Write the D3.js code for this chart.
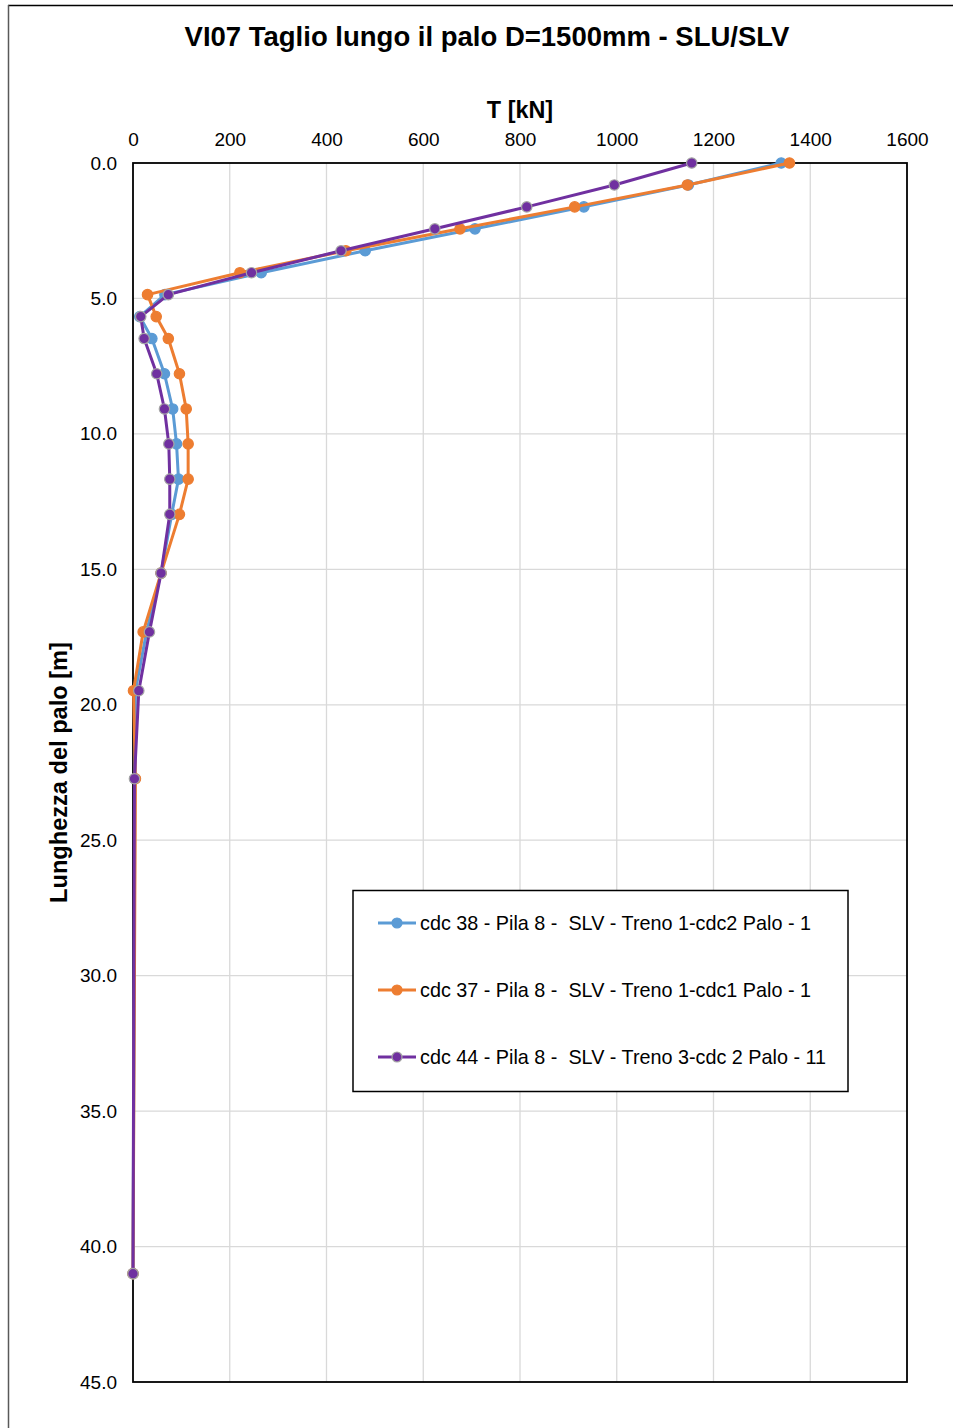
<!DOCTYPE html>
<html>
<head>
<meta charset="utf-8">
<script src="https://cdn.jsdelivr.net/npm/d3@7"></script>
<style>
  html, body { margin: 0; padding: 0; background: #fff; }
  svg { display: block; font-family: "Liberation Sans", Arial, sans-serif; }
</style>
</head>
<body>
<svg id="chart" width="953" height="1428"></svg>
<script>
// Depth along the pile [m]
const depth = [0, 0.81, 1.62, 2.43, 3.24, 4.05, 4.86, 5.67, 6.48, 7.78, 9.08, 10.37, 11.67, 12.97, 15.14, 17.31, 19.48, 22.73, 41.0];

// Shear T [kN] per load combination
const cdc38 = [1340, 1148, 932, 707, 480, 265, 66, 14, 39, 65, 82, 90, 94, 80, 58, 28, 5, 4, 0];
const cdc37 = [1357, 1146, 913, 676, 440, 221, 30, 48, 73, 96, 110, 114, 114, 96, 58, 21, 1, 5, 0];
const cdc44 = [1155, 995, 814, 624, 430, 245, 73, 16, 23, 49, 65, 74, 76, 76, 58, 34, 12, 3, 0];

const seriesNames = [
  "cdc 38 - Pila 8 -  SLV - Treno 1-cdc2 Palo - 1",
  "cdc 37 - Pila 8 -  SLV - Treno 1-cdc1 Palo - 1",
  "cdc 44 - Pila 8 -  SLV - Treno 3-cdc 2 Palo - 11"
];
const seriesColors = ["#5B9BD5", "#ED7D31", "#7030A0"];
const markerStrokes = ["#5B9BD5", "#ED7D31", "#A5A5A5"];

const xTicks = [0, 200, 400, 600, 800, 1000, 1200, 1400, 1600];
const yTicks = [0, 5, 10, 15, 20, 25, 30, 35, 40, 45];

const title = "VI07 Taglio lungo il palo D=1500mm - SLU/SLV";
const xTitle = "T [kN]";
const yTitle = "Lunghezza del palo [m]";

const svg = d3.select("#chart");
const W = 953, H = 1428;
const plot = { left: 133, top: 163, right: 907, bottom: 1382 };

// chart frame
svg.append("line").attr("x1", 8).attr("x2", W).attr("y1", 5.5).attr("y2", 5.5)
  .attr("stroke", "#000").attr("stroke-width", 1.5);
svg.append("line").attr("x1", 8.5).attr("x2", 8.5).attr("y1", 5).attr("y2", H)
  .attr("stroke", "#595959").attr("stroke-width", 1.5);

const x = d3.scaleLinear().domain([0, 1600]).range([plot.left, plot.right]);
const y = d3.scaleLinear().domain([0, 45]).range([plot.top, plot.bottom]);

// gridlines
const grid = svg.append("g");
grid.selectAll("line.v").data(xTicks.slice(1, -1)).join("line")
  .attr("x1", d => x(d)).attr("x2", d => x(d))
  .attr("y1", plot.top).attr("y2", plot.bottom)
  .attr("stroke", "#D9D9D9").attr("stroke-width", 1.3);
grid.selectAll("line.h").data(yTicks.slice(1, -1)).join("line")
  .attr("x1", plot.left).attr("x2", plot.right)
  .attr("y1", d => y(d)).attr("y2", d => y(d))
  .attr("stroke", "#D9D9D9").attr("stroke-width", 1.3);

// plot border
svg.append("rect")
  .attr("x", plot.left).attr("y", plot.top)
  .attr("width", plot.right - plot.left).attr("height", plot.bottom - plot.top)
  .attr("fill", "none").attr("stroke", "#000").attr("stroke-width", 1.8);

// axes (labels only, the frame draws the lines)
const xAxis = d3.axisTop(x).tickValues(xTicks).tickSize(0).tickPadding(17).tickFormat(d3.format("d"));
const gx = svg.append("g").attr("transform", `translate(0,${plot.top})`).call(xAxis);
gx.select(".domain").remove();
gx.selectAll("text").attr("font-size", 19).attr("fill", "#000")
  .attr("font-family", "Liberation Sans, Arial, sans-serif");

const yAxis = d3.axisLeft(y).tickValues(yTicks).tickSize(0).tickPadding(16).tickFormat(d3.format(".1f"));
const gy = svg.append("g").attr("transform", `translate(${plot.left},0)`).call(yAxis);
gy.select(".domain").remove();
gy.selectAll("text").attr("font-size", 19).attr("fill", "#000")
  .attr("font-family", "Liberation Sans, Arial, sans-serif");

// titles
svg.append("text").attr("x", 487).attr("y", 46).attr("text-anchor", "middle")
  .attr("font-size", 27.5).attr("font-weight", "bold").text(title);
svg.append("text").attr("x", (plot.left + plot.right) / 2).attr("y", 118).attr("text-anchor", "middle")
  .attr("font-size", 23.4).attr("font-weight", "bold").text(xTitle);
svg.append("text").attr("transform", `translate(67,${(plot.top + plot.bottom) / 2}) rotate(-90)`)
  .attr("text-anchor", "middle").attr("font-size", 23.6).attr("font-weight", "bold").text(yTitle);

// series
const allSeries = [cdc38, cdc37, cdc44];
const line = d3.line().x(d => x(d[0])).y(d => y(d[1]));
allSeries.forEach((vals, i) => {
  const pts = vals.map((v, k) => [v, depth[k]]);
  const g = svg.append("g");
  g.append("path").datum(pts).attr("d", line)
    .attr("fill", "none").attr("stroke", seriesColors[i]).attr("stroke-width", 3)
    .attr("stroke-linejoin", "round");
  g.selectAll("circle").data(pts).join("circle")
    .attr("cx", d => x(d[0])).attr("cy", d => y(d[1])).attr("r", 5.2)
    .attr("fill", seriesColors[i]).attr("stroke", markerStrokes[i]).attr("stroke-width", 1.2);
});

// legend
const lg = svg.append("g");
lg.append("rect").attr("x", 353).attr("y", 890.5).attr("width", 495).attr("height", 201)
  .attr("fill", "#fff").attr("stroke", "#000").attr("stroke-width", 1.5);
const rowY = [923, 990, 1057];
seriesNames.forEach((name, i) => {
  lg.append("line").attr("x1", 378).attr("x2", 416).attr("y1", rowY[i]).attr("y2", rowY[i])
    .attr("stroke", seriesColors[i]).attr("stroke-width", 3);
  lg.append("circle").attr("cx", 397).attr("cy", rowY[i]).attr("r", 5)
    .attr("fill", seriesColors[i]).attr("stroke", markerStrokes[i]).attr("stroke-width", 1.2);
  lg.append("text").attr("x", 420).attr("y", rowY[i] + 7).attr("font-size", 19.8)
    .attr("xml:space", "preserve").style("white-space", "pre").text(name);
});
</script>
</body>
</html>
